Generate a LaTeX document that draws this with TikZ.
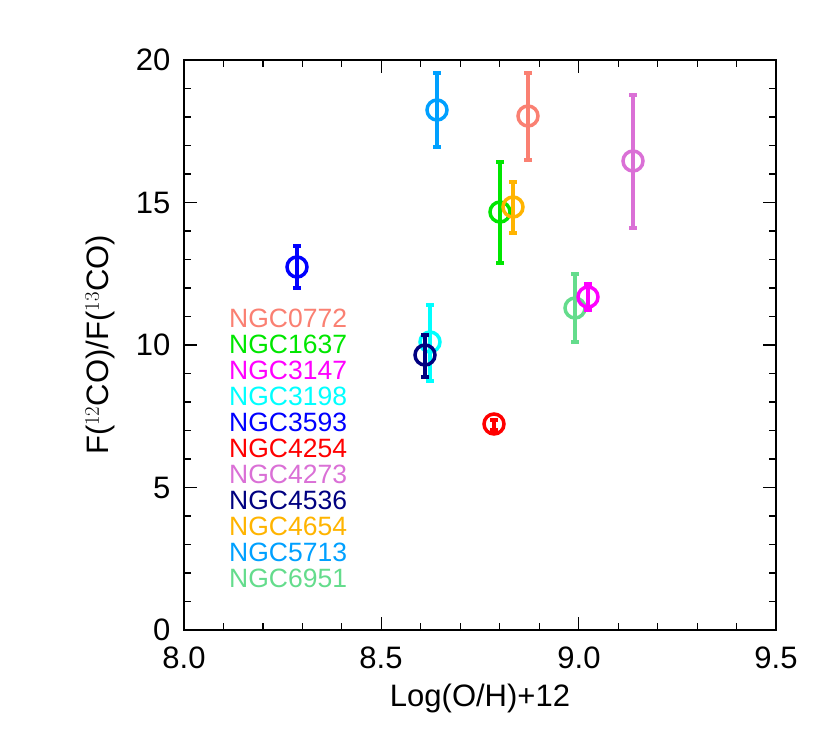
\documentclass[tikz,border=0pt]{standalone}
\usepackage{fontspec}
\setmainfont{Liberation Sans}
\begin{document}
\begin{tikzpicture}[x=1pt,y=-1pt,
  pt/.style={line width=3.5pt},
  lab/.style={font=\fontsize{26.5}{26.5}\selectfont, anchor=west, inner sep=0pt},
  tick/.style={line width=1.2pt},
  ax/.style={font=\fontsize{31}{31}\selectfont}]
\useasboundingbox (0,0) rectangle (830,748);
\definecolor{c0772}{RGB}{250,128,114}
\definecolor{c1637}{RGB}{0,230,0}
\definecolor{c3147}{RGB}{255,0,255}
\definecolor{c3198}{RGB}{0,255,255}
\definecolor{c3593}{RGB}{0,0,255}
\definecolor{c4254}{RGB}{255,0,0}
\definecolor{c4273}{RGB}{218,112,214}
\definecolor{c4536}{RGB}{0,0,128}
\definecolor{c4654}{RGB}{255,180,0}
\definecolor{c5713}{RGB}{0,160,255}
\definecolor{c6951}{RGB}{100,220,140}
% axes box
\draw[tick] (184,60) rectangle (776,630);
\foreach \i in {1,...,14}{
  \pgfmathsetmacro\xx{184+\i*39.47}
  \pgfmathsetmacro\len{ifthenelse(mod(\i,5)==0,13,7)}
  \draw[tick] (\xx,630) -- ++(0,-\len);
  \draw[tick] (\xx,60) -- ++(0,\len);}
\foreach \i in {1,...,19}{
  \pgfmathsetmacro\yy{630-\i*28.5}
  \pgfmathsetmacro\len{ifthenelse(mod(\i,5)==0,13,7)}
  \draw[tick] (184,\yy) -- ++(\len,0);
  \draw[tick] (776,\yy) -- ++(-\len,0);}
\foreach \v/\xx in {8.0/184,8.5/381,9.0/579,9.5/776}
  \node[ax,anchor=north] (xl\xx) at (\xx,643) {\v};
\foreach \v in {0,5,10,15,20}
  \node[ax,anchor=east] (yl\v) at (174,{630-\v*28.5}) {\v};
\node[ax,anchor=north] (xt) at (480,680) {Log(O/H)+12};
\node[ax,rotate=90] (yt) at (100,345) {F($^{12}$CO)/F($^{13}$CO)};
% points
\foreach \n/\x/\y/\a/\b in {5713/437/110/73/147, 0772/528/116/73/160, 4273/633/161/95/228,
   1637/500/212/162/263, 4654/513/207/182/233, 3593/297/267/246/288, 6951/575/308/274/342,
   3147/588/297/284/310, 3198/430/342/305/381, 4536/425/355/335/377, 4254/494/424/420/430}{
  \draw[pt,c\n] (\x,\a) -- (\x,\b) (\x-4,\a) -- (\x+4,\a) (\x-4,\b) -- (\x+4,\b);
  \node[draw=c\n,pt,circle,minimum size=20pt,inner sep=0pt] (p\n) at (\x,\y) {};}
% legend
\foreach \n [count=\k from 0] in {0772,1637,3147,3198,3593,4254,4273,4536,4654,5713,6951}
  \node[lab,text=c\n] (l\n) at (229,{318+\k*26}) {NGC\n};
\end{tikzpicture}
\end{document}
